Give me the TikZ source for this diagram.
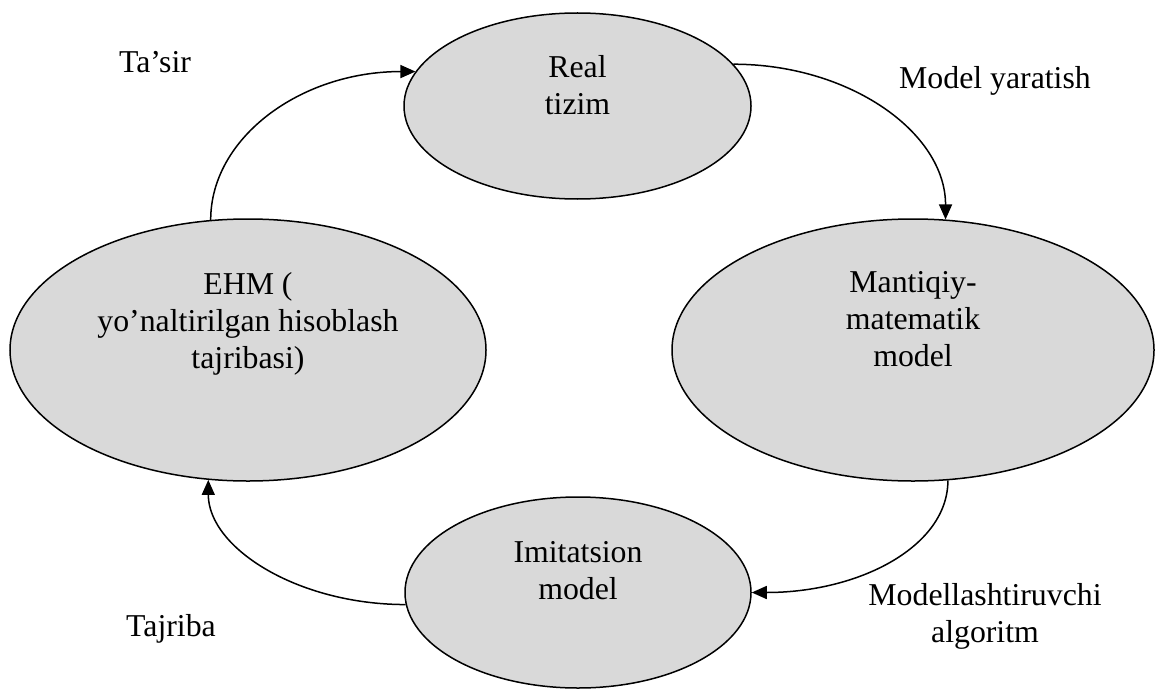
\documentclass[tikz,border=0pt]{standalone}
\usepackage{fontspec}
\setmainfont{Liberation Serif}
\usetikzlibrary{arrows.meta,shapes.geometric}
\definecolor{bubblegray}{HTML}{D9D9D9}
\begin{document}
\begin{tikzpicture}[x=0.5pt,y=-0.5pt,
  blob/.style={ellipse, draw=black, line width=0.75pt, fill=bubblegray, inner sep=0pt},
  txt/.style={font=\fontsize{15.9pt}{18.5pt}\selectfont, align=center, inner sep=0pt},
  conn/.style={draw=black, line width=0.75pt, -{Triangle[length=7.5pt,width=6.5pt]}}]
\useasboundingbox (0,0) rectangle (1155,690);
% ellipses
\node[blob, minimum width=173.5pt, minimum height=93pt] (real) at (577.5,106) {};
\node[blob, minimum width=241pt, minimum height=131pt] (mant) at (913,350) {};
\node[blob, minimum width=173pt, minimum height=95.5pt] (imit) at (578,592.5) {};
\node[blob, minimum width=238pt, minimum height=131pt] (ehm) at (248,350) {};
% texts inside
\node[txt] (realt) at (577.5,85.5) {Real\\tizim};
\node[txt] (mantt) at (913,319.5) {Mantiqiy-\\matematik\\model};
\node[txt] (imitt) at (578,570.5) {Imitatsion\\model};
\node[txt] (ehmt) at (248,324) {EHM (\\yo’naltirilgan hisoblash\\tajribasi)};
% labels
\node[txt, anchor=base] (l1) at (155,73) {Ta’sir};
\node[txt, anchor=base] (l2) at (995,89) {Model yaratish};
\node[txt] (l3) at (985,616) {Modellashtiruvchi\\algoritm};
\node[txt, anchor=base] (l4) at (171,636) {Tajriba};
% connectors
\draw[conn] (ehm.106.3) .. controls +(0,-82) and +(-115,0) .. (real.168);
\draw[conn] (real.15.9) .. controls +(116,0) and +(0,-87) .. (mant.76.3);
\draw[conn] (mant.-75.7) .. controls +(0,66) and +(108,0) .. (imit.-0.8);
\draw[conn] (imit.184.1) .. controls +(-108,0) and +(0,68) .. (ehm.253.9);
\end{tikzpicture}
\end{document}
